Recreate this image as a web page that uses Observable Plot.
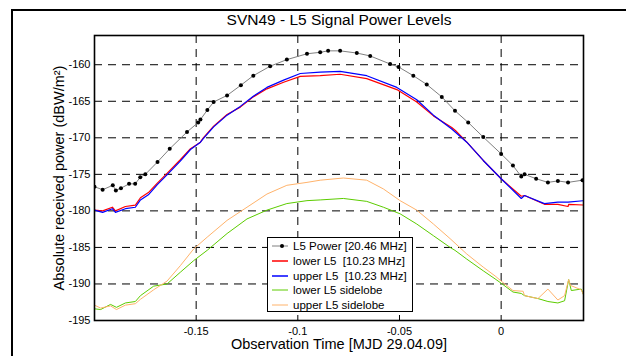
<!DOCTYPE html>
<html><head><meta charset="utf-8">
<script src="https://cdn.jsdelivr.net/npm/d3@7"></script>
<script src="https://cdn.jsdelivr.net/npm/@observablehq/plot@0.6"></script>
<style>
body{margin:0;background:#fff;}
#wrap{position:relative;width:626px;height:356px;overflow:hidden;font-family:"Liberation Sans",Arial,sans-serif;background:#fff;}
#frame{position:absolute;left:11px;top:9px;width:700px;height:400px;border-top:2px solid #000;border-left:2px solid #000;}
#chart{position:absolute;left:0;top:0;}
#legend{position:absolute;left:267px;top:237px;width:144px;height:73px;border:1px solid #000;background:#fff;font-size:11.5px;color:#000;}
.row{position:absolute;left:0;height:14px;display:flex;align-items:center;white-space:pre;}
.row svg{margin-left:4px;margin-right:5px;}
</style></head>
<body>
<div id="wrap"><div id="frame"></div><div id="chart"></div><div id="legend"></div></div>
<script>
// ---- data (time in MJD offset, power in dBW/m^2) ----
const powerT = [-0.2,-0.196,-0.191,-0.1895,-0.187,-0.183,-0.18,-0.1775,-0.175,-0.169,-0.163,-0.1545,-0.149,-0.1479,-0.1445,-0.1414,-0.1348,-0.128,-0.1219,-0.1136,-0.1054,-0.0955,-0.089,-0.0851,-0.0792,-0.071,-0.0644,-0.0546,-0.0505,-0.0432,-0.0366,-0.0292,-0.0227,-0.0162,-0.0088,0.0,0.0058,0.0099,0.0115,0.0172,0.023,0.0279,0.0329,0.04];
const powerP = [-176.7,-177.1,-176.5,-177.2,-176.9,-176.3,-176.3,-175.4,-175.0,-173.3,-171.5,-169.2,-167.9,-167.5,-166.2,-165.1,-164.2,-162.8,-161.5,-160.2,-159.3,-158.5,-158.3,-158.1,-158.1,-158.4,-158.8,-159.9,-160.3,-161.5,-162.7,-164.4,-166.3,-167.9,-169.9,-172.2,-173.8,-175.3,-175.0,-175.6,-176.1,-175.9,-176.1,-175.8];

const lowerT = [-0.2,-0.196,-0.1912,-0.1897,-0.1848,-0.1799,-0.1774,-0.1735,-0.1691,-0.1641,-0.1578,-0.1528,-0.1479,-0.1465,-0.1414,-0.1348,-0.1283,-0.1219,-0.1152,-0.107,-0.0988,-0.089,-0.0792,-0.0661,-0.0513,-0.0415,-0.0333,-0.0243,-0.0225,-0.0169,-0.0088,0.0,0.0099,0.0115,0.0213,0.0279,0.0329,0.0332,0.0407];
const lowerP = [-179.9,-180.0,-179.5,-180.0,-179.4,-179.2,-178.2,-177.5,-176.2,-174.8,-173.0,-171.5,-170.6,-170.0,-168.4,-166.8,-165.8,-164.4,-163.3,-162.4,-161.6,-161.5,-161.3,-161.9,-163.4,-165.1,-167.0,-168.6,-169.0,-170.6,-173.1,-175.6,-178.0,-177.9,-179.1,-179.1,-179.4,-179.1,-179.2];

const upperT = [-0.2,-0.196,-0.1912,-0.1897,-0.1848,-0.1799,-0.1774,-0.1735,-0.1691,-0.1641,-0.1578,-0.1528,-0.1479,-0.1465,-0.1414,-0.1348,-0.1283,-0.1219,-0.1152,-0.107,-0.0988,-0.089,-0.0792,-0.0661,-0.0513,-0.0415,-0.0333,-0.0243,-0.0169,-0.0088,0.0,0.0099,0.0115,0.0213,0.0279,0.0329,0.0407];
const upperP = [-179.9,-180.2,-179.7,-180.2,-179.7,-179.5,-178.5,-177.8,-176.4,-175.0,-173.2,-171.6,-170.6,-170.1,-168.5,-166.9,-165.7,-164.3,-163.1,-162.1,-161.2,-161.0,-160.9,-161.5,-163.1,-164.8,-166.9,-168.8,-170.6,-173.1,-175.6,-178.3,-177.9,-179.0,-178.8,-178.8,-178.6];

const lowerSideT = [-0.2,-0.197,-0.1921,-0.1892,-0.1848,-0.1799,-0.1774,-0.1709,-0.1643,-0.1578,-0.1512,-0.1446,-0.1348,-0.125,-0.1152,-0.1054,-0.0955,-0.089,-0.0776,-0.0661,-0.0579,-0.0497,-0.0415,-0.0333,-0.0251,-0.0227,-0.0169,-0.0088,-0.003,0.0,0.0058,0.0099,0.0115,0.0181,0.023,0.0279,0.0312,0.0332,0.0345,0.0394,0.0407];
const lowerSideP = [-193.4,-193.5,-192.8,-193.2,-192.6,-192.4,-191.6,-190.3,-190.0,-188.4,-186.8,-185.4,-183.1,-181.1,-179.9,-179.0,-178.6,-178.5,-178.3,-178.7,-179.5,-180.4,-181.8,-183.4,-185.0,-185.4,-186.6,-188.2,-189.3,-189.9,-191.1,-191.3,-191.6,-192.0,-192.4,-192.6,-192.3,-189.4,-190.9,-190.7,-191.6];

const upperSideT = [-0.2,-0.197,-0.1921,-0.1892,-0.1848,-0.1799,-0.1774,-0.1709,-0.1643,-0.1578,-0.1512,-0.1446,-0.1348,-0.125,-0.1152,-0.1054,-0.0955,-0.089,-0.0776,-0.0661,-0.0579,-0.0497,-0.0415,-0.0333,-0.0251,-0.0169,-0.0088,-0.003,0.0,0.0058,0.0108,0.0115,0.0181,0.023,0.0279,0.0312,0.0332,0.0341,0.0394,0.0407];
const upperSideP = [-192.9,-193.3,-193.0,-193.5,-192.9,-192.7,-192.1,-190.8,-189.6,-187.5,-185.2,-183.6,-181.3,-179.5,-177.7,-176.5,-176.1,-175.8,-175.5,-175.8,-177.0,-178.6,-179.9,-181.8,-183.8,-185.9,-187.7,-188.9,-189.6,-190.9,-191.0,-191.6,-192.0,-190.7,-192.2,-191.6,-189.4,-190.2,-190.8,-191.6];

const seriesNames = ["L5 Power [20.46 MHz]", "lower L5  [10.23 MHz]", "upper L5  [10.23 MHz]", "lower L5 sidelobe", "upper L5 sidelobe"];
const seriesColors = ["#808080", "#ff0000", "#0000ff", "#5ccc00", "#ffb36b"];
const xTicks = [-0.15, -0.1, -0.05, 0];
const yTicks = [-195, -190, -185, -180, -175, -170, -165, -160];
const titleText = "SVN49 - L5 Signal Power Levels";
const xLabel = "Observation Time [MJD 29.04.09]";
const yLabel = "Absolute received power (dBW/m²)";

const toRows = (T, P) => T.map((t, i) => ({t, p: P[i]}));
const series = [toRows(powerT, powerP), toRows(lowerT, lowerP), toRows(upperT, upperP), toRows(lowerSideT, lowerSideP), toRows(upperSideT, upperSideP)];

const chart = Plot.plot({
  width: 626, height: 356,
  marginLeft: 94, marginTop: 35, marginRight: 43, marginBottom: 36,
  style: {fontFamily: "'Liberation Sans', Arial, sans-serif", fontSize: "11px", background: "transparent", color: "#000", overflow: "visible"},
  x: {domain: [-0.2, 0.0405]},
  y: {domain: [-195, -156]},
  marks: [
    Plot.gridX(xTicks, {stroke: "#000", strokeOpacity: 1, strokeWidth: 1, strokeDasharray: "8,6"}),
    Plot.gridY(yTicks, {stroke: "#000", strokeOpacity: 1, strokeWidth: 1, strokeDasharray: "8,6"}),
    Plot.axisX(xTicks, {tickSize: 0, tickPadding: 7, tickFormat: d => String(d), label: null}),
    Plot.axisY(yTicks, {tickSize: 0, tickPadding: 4, tickFormat: d => String(d), label: null}),
    Plot.line(series[3], {x: "t", y: "p", stroke: seriesColors[3], strokeWidth: 1, clip: true}),
    Plot.line(series[4], {x: "t", y: "p", stroke: seriesColors[4], strokeWidth: 1, clip: true}),
    Plot.line(series[1], {x: "t", y: "p", stroke: seriesColors[1], strokeWidth: 1.2, clip: true}),
    Plot.line(series[2], {x: "t", y: "p", stroke: seriesColors[2], strokeWidth: 1.2, clip: true}),
    Plot.line(series[0], {x: "t", y: "p", stroke: seriesColors[0], strokeWidth: 1, clip: true}),
    Plot.dot(series[0], {x: "t", y: "p", r: 2, fill: "#000", stroke: "none", clip: true}),
    Plot.frame({stroke: "#000", strokeWidth: 1.6}),
    Plot.text([titleText], {frameAnchor: "top", dy: -15, fontSize: 15.5, lineAnchor: "middle", textAnchor: "middle"}),
    Plot.text([xLabel], {frameAnchor: "bottom", dy: 24, fontSize: 14.5, lineAnchor: "middle", textAnchor: "middle"}),
    Plot.text([yLabel], {frameAnchor: "left", dx: -35, rotate: -90, fontSize: 14.5, lineAnchor: "middle", textAnchor: "middle"})
  ]
});
document.getElementById("chart").appendChild(chart);

// legend
const legend = document.getElementById("legend");
const rowTops = [1, 16, 31, 45, 60];
seriesNames.forEach((name, i) => {
  const row = document.createElement("div");
  row.className = "row";
  row.style.top = rowTops[i] + "px";
  const sw = i === 0
    ? `<svg width="16" height="6"><line x1="0" y1="3" x2="16" y2="3" stroke="${seriesColors[i]}" stroke-width="1"/><circle cx="10" cy="3" r="2" fill="#000"/></svg>`
    : `<svg width="16" height="6"><line x1="0" y1="3" x2="16" y2="3" stroke="${seriesColors[i]}" stroke-width="${i < 3 ? 1.5 : 1}"/></svg>`;
  row.innerHTML = sw + `<span>${name}</span>`;
  legend.appendChild(row);
});
</script>
</body></html>
